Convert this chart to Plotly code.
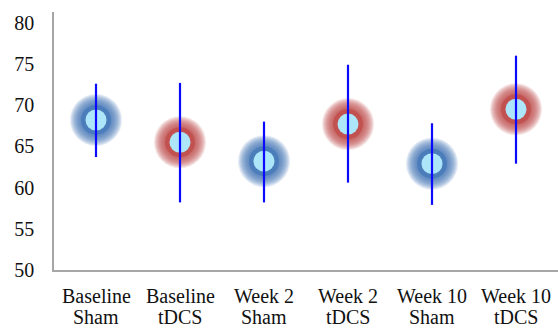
import plotly.graph_objects as go

categories = ["Baseline Sham", "Baseline tDCS", "Week 2 Sham",
              "Week 2 tDCS", "Week 10 Sham", "Week 10 tDCS"]
label_line1 = ["Baseline", "Baseline", "Week 2", "Week 2", "Week 10", "Week 10"]
label_line2 = ["Sham", "tDCS", "Sham", "tDCS", "Sham", "tDCS"]
groups = ["Sham", "tDCS", "Sham", "tDCS", "Sham", "tDCS"]
means = [68.2, 65.5, 63.2, 67.7, 62.9, 69.5]
err_plus = [4.4, 7.2, 4.8, 7.2, 4.9, 6.5]
err_minus = [4.5, 7.3, 5.0, 7.1, 5.0, 6.6]
y_ticks = [50, 55, 60, 65, 70, 75, 80]

glow = {"Sham": "rgba(72,122,186,{a})", "tDCS": "rgba(192,78,75,{a})"}

fig = go.Figure()

# soft glow: stacked translucent rings fading outward
for s in range(52, 30, -2):
    fig.add_trace(go.Scatter(
        x=categories, y=means, mode="markers", hoverinfo="skip",
        marker=dict(size=s, color=[glow[g].format(a=0.14) for g in groups],
                    line=dict(width=0)),
        showlegend=False))
# solid core of the glow
fig.add_trace(go.Scatter(
    x=categories, y=means, mode="markers", hoverinfo="skip",
    marker=dict(size=30, color=[glow[g].format(a=0.85) for g in groups],
                line=dict(width=0)),
    showlegend=False))

# inner light disc
fig.add_trace(go.Scatter(
    x=categories, y=means, mode="markers",
    marker=dict(size=21, color="#ade6f8", line=dict(width=0)),
    showlegend=False))

# error bars on top
fig.add_trace(go.Scatter(
    x=categories, y=means, mode="markers",
    marker=dict(size=1, color="rgba(0,0,0,0)"),
    error_y=dict(type="data", symmetric=False, array=err_plus,
                 arrayminus=err_minus, color="#0a0aff", thickness=2.2, width=0),
    showlegend=False))

plot_top, plot_bottom = 12, 270
h = plot_bottom - plot_top
for cat, l1, l2 in zip(categories, label_line1, label_line2):
    for txt, py in ((l1, 296), (l2, 317.5)):
        fig.add_annotation(x=cat, xref="x", yref="paper", y=(plot_bottom - py) / h,
                           text=txt, showarrow=False, xanchor="center", yanchor="middle",
                           borderpad=0, font=dict(size=20))

fig.update_layout(
    width=558, height=329,
    margin=dict(l=54, r=0, t=plot_top, b=329 - plot_bottom),
    paper_bgcolor="white", plot_bgcolor="white",
    font=dict(family="Liberation Serif, Times New Roman, serif", size=20, color="#111111"),
    xaxis=dict(type="category", range=[-0.5, 5.5], showgrid=False, zeroline=False,
               showline=True, linecolor="#a6a6a6", linewidth=1.6, automargin=False,
               showticklabels=False, ticks=""),
    yaxis=dict(range=[50, 81.3], tickvals=y_ticks, showgrid=False, zeroline=False,
               showline=True, linecolor="#a6a6a6", linewidth=1.6, automargin=False,
               ticks="outside", ticklen=14, tickcolor="rgba(0,0,0,0)"),
)

fig.write_html("out.html", config={"displayModeBar": False},
               post_script="document.body.style.margin='0';document.body.style.overflow='hidden';")
